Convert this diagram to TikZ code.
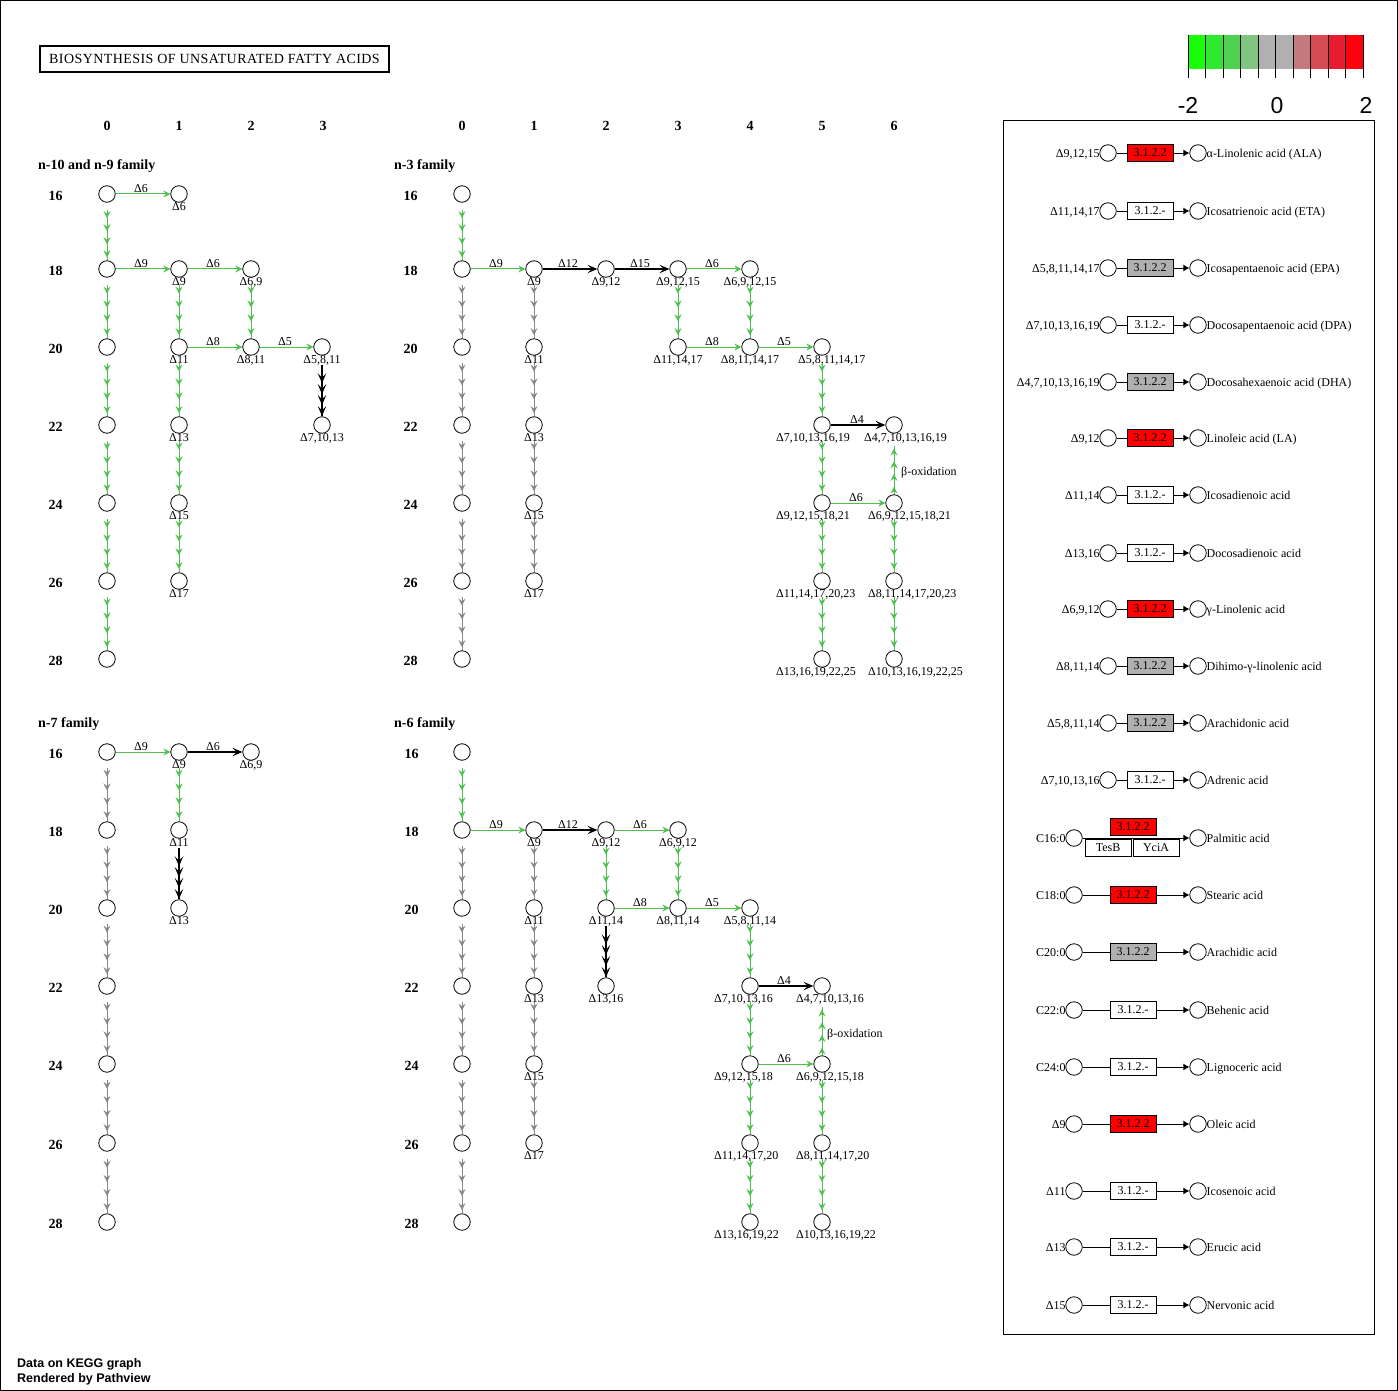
\documentclass[tikz,border=0pt]{standalone}
\usepackage{fontspec}
\setmainfont{Liberation Serif}
\setsansfont{Liberation Sans}
\usetikzlibrary{arrows.meta,decorations.markings}

\definecolor{rxgreen}{RGB}{78,192,78}
\definecolor{rxgray}{RGB}{136,136,136}
\definecolor{hitred}{RGB}{255,0,0}
\definecolor{hitgray}{RGB}{176,176,176}
\definecolor{sc1}{RGB}{25,255,8}
\definecolor{sc2}{RGB}{48,232,48}
\definecolor{sc3}{RGB}{80,208,80}
\definecolor{sc4}{RGB}{128,198,128}
\definecolor{sc5}{RGB}{176,176,176}
\definecolor{sc6}{RGB}{176,176,176}
\definecolor{sc7}{RGB}{196,122,124}
\definecolor{sc8}{RGB}{214,76,82}
\definecolor{sc9}{RGB}{232,28,46}
\definecolor{sc10}{RGB}{255,0,12}

\newcommand\fsz[1]{\fontsize{#1}{#1}\selectfont}

\tikzset{
  gtip/.tip={Stealth[length=7pt,width=7pt,inset=2.5pt]},
  btip/.tip={Stealth[length=10pt,width=8.5pt,inset=4.5pt]},
  ptip/.tip={Latex[length=6pt,width=7pt]},
  cpd/.style={circle,draw,fill=white,line width=0.8pt,minimum size=16.5pt,inner sep=0pt},
  dlab/.style={font=\fsz{12},inner sep=0pt,anchor=base},
  elab/.style={font=\fsz{12},inner sep=0pt,anchor=base},
  hdr/.style={font=\bfseries\fsz{14},inner sep=0pt},
  fam/.style={font=\bfseries\fsz{14},inner sep=0pt,anchor=base west},
  hgreen/.style={rxgreen,line width=1pt,-{gtip}},
  hblack/.style={black,line width=1.1pt,-{btip}},
  multi/.style={line width=1pt,decoration={markings,
      mark=at position 0.16 with {\arrow{gtip}},
      mark=at position 0.42 with {\arrow{gtip}},
      mark=at position 0.68 with {\arrow{gtip}},
      mark=at position 0.94 with {\arrow{gtip}}},postaction={decorate}},
  vgreen/.style={rxgreen,multi},
  vgray/.style={rxgray,multi},
  vblack/.style={black,line width=1.4pt,decoration={markings,
      mark=at position 0.36 with {\arrow{btip}},
      mark=at position 0.57 with {\arrow{btip}},
      mark=at position 0.78 with {\arrow{btip}},
      mark=at position 0.995 with {\arrow{btip}}},postaction={decorate}},
  ecbox/.style={draw,line width=0.8pt,minimum width=46pt,minimum height=17pt,inner sep=0pt,font=\fsz{12}},
  plab/.style={font=\fsz{12},inner sep=0pt},
  pline/.style={line width=0.9pt},
  beta/.style={font=\fsz{12},inner sep=0pt,anchor=west},
}

% compound circle without / with a caption underneath
\newcommand\mkcpd[3]{\node[cpd] (#1) at (#2,#3) {};}
\newcommand\mkcpdl[4]{\node[cpd] (#1) at (#2,#3) {};
  \node[dlab] (#1-l) at (#2,#3+16.5) {#4};}
% caption starting at a given x (crowded columns)
\newcommand\mkcpdw[5]{\node[cpd] (#1) at (#2,#3) {};
  \node[dlab,anchor=base west] (#1-l) at (#5,#3+16.5) {#4};}
% vertical chain starts just below the circle (or its caption)
\newcommand\vstep[3]{\draw[#1] ([yshift=-7.5pt]#2.south) -- (#3.north);}
\newcommand\vbstep[2]{\draw[vblack] ([yshift=-9pt]#1.south) -- (#2.north);}
% thioesterase row: id, y, substrate x, enzyme x, substrate, fill, EC, product
\newcommand\prow[8]{%
  \node[cpd] (#1s) at (#3,#2) {};
  \node[plab,anchor=base east] (#1sl) at (#3-8.3,#2+4.5) {#5};
  \node[ecbox,fill=#6] (#1e) at (#4,#2) {#7};
  \node[cpd] (#1p) at (1198,#2) {};
  \node[plab,anchor=base west] (#1pl) at (1206.5,#2+4.5) {#8};
  \draw[pline] (#1s) -- (#1e);
  \draw[pline,-{ptip}] (#1e) -- (#1p);}

\begin{document}
\begin{tikzpicture}[x=1pt,y=-1pt]
\useasboundingbox (0,0) rectangle (1398,1391);
\draw[line width=1pt] (0.5,0.5) rectangle (1397.5,1390.5);

% title
\node[draw,line width=1.5pt,minimum width=349pt,minimum height=26pt,inner sep=0pt,
  font=\fsz{14}\addfontfeature{LetterSpace=3}]
  (title) at (214.5,59) {BIOSYNTHESIS OF UNSATURATED FATTY ACIDS};

% colour key
\foreach \c [count=\i from 0] in {sc1,sc2,sc3,sc4,sc5,sc6,sc7,sc8,sc9,sc10}
  \fill[\c] (1188+\i*17.5,35) rectangle ++(17.5,34);
\foreach \i in {0,...,10}
  \draw[line width=0.8pt] (1188+\i*17.5,35) -- ++(0,43);
\node[font=\sffamily\fsz{23},inner sep=0pt] (keylo) at (1188,105.5) {-2};
\node[font=\sffamily\fsz{23},inner sep=0pt] (keymid) at (1277,105.5) {0};
\node[font=\sffamily\fsz{23},inner sep=0pt] (keyhi) at (1366,105.5) {2};

% column headers (number of double bonds)
\foreach \x/\t in {107/0,179/1,251/2,323/3}
  \node[hdr] (hl\t) at (\x,126) {\t};
\foreach \x/\t in {462/0,534/1,606/2,678/3,750/4,822/5,894/6}
  \node[hdr] (hr\t) at (\x,126) {\t};

% family titles
\node[fam] (famA) at (38,170) {n-10 and n-9 family};
\node[fam] (famB) at (394,170) {n-3 family};
\node[fam] (famC) at (38,727) {n-7 family};
\node[fam] (famD) at (394,727) {n-6 family};

% chain length labels
\foreach \y/\t in {194/16,269/18,347/20,425/22,503/24,581/26,659/28}{
  \node[hdr] (rA\t) at (55.5,\y+2) {\t};
  \node[hdr] (rB\t) at (410.5,\y+2) {\t};}
\foreach \y/\t in {752/16,830/18,908/20,986/22,1064/24,1143/26,1222/28}{
  \node[hdr] (rC\t) at (55.5,\y+2) {\t};
  \node[hdr] (rD\t) at (411.5,\y+2) {\t};}

%% ---------------- n-10 and n-9 family ----------------
\mkcpd{A-0-16}{107}{194}
\mkcpdl{A-1-16}{179}{194}{Δ6}
\mkcpd{A-0-18}{107}{269}
\mkcpdl{A-1-18}{179}{269}{Δ9}
\mkcpdl{A-2-18}{251}{269}{Δ6,9}
\mkcpd{A-0-20}{107}{347}
\mkcpdl{A-1-20}{179}{347}{Δ11}
\mkcpdl{A-2-20}{251}{347}{Δ8,11}
\mkcpdl{A-3-20}{322}{347}{Δ5,8,11}
\mkcpd{A-0-22}{107}{425}
\mkcpdl{A-1-22}{179}{425}{Δ13}
\mkcpdl{A-3-22}{322}{425}{Δ7,10,13}
\mkcpd{A-0-24}{107}{503}
\mkcpdl{A-1-24}{179}{503}{Δ15}
\mkcpd{A-0-26}{107}{581}
\mkcpdl{A-1-26}{179}{581}{Δ17}
\mkcpd{A-0-28}{107}{659}

\draw[hgreen] (A-0-16) -- (A-1-16); \node[elab] (tA1) at (141,192.5) {Δ6};
\draw[hgreen] (A-0-18) -- (A-1-18); \node[elab] (tA2) at (141,267.5) {Δ9};
\draw[hgreen] (A-1-18) -- (A-2-18); \node[elab] (tA3) at (213,267.5) {Δ6};
\draw[hgreen] (A-1-20) -- (A-2-20); \node[elab] (tA4) at (213,345.5) {Δ8};
\draw[hgreen] (A-2-20) -- (A-3-20); \node[elab] (tA5) at (285,345.5) {Δ5};

\vstep{vgreen}{A-0-16}{A-0-18}
\vstep{vgreen}{A-0-18}{A-0-20}
\vstep{vgreen}{A-0-20}{A-0-22}
\vstep{vgreen}{A-0-22}{A-0-24}
\vstep{vgreen}{A-0-24}{A-0-26}
\vstep{vgreen}{A-0-26}{A-0-28}
\vstep{vgreen}{A-1-18}{A-1-20}
\vstep{vgreen}{A-1-20}{A-1-22}
\vstep{vgreen}{A-1-22}{A-1-24}
\vstep{vgreen}{A-1-24}{A-1-26}
\vstep{vgreen}{A-2-18}{A-2-20}
\vbstep{A-3-20}{A-3-22}

%% ---------------- n-3 family ----------------
\mkcpd{B-0-16}{462}{194}
\mkcpd{B-0-18}{462}{269}
\mkcpdl{B-1-18}{534}{269}{Δ9}
\mkcpdl{B-2-18}{606}{269}{Δ9,12}
\mkcpdl{B-3-18}{678}{269}{Δ9,12,15}
\mkcpdl{B-4-18}{750}{269}{Δ6,9,12,15}
\mkcpd{B-0-20}{462}{347}
\mkcpdl{B-1-20}{534}{347}{Δ11}
\mkcpdl{B-3-20}{678}{347}{Δ11,14,17}
\mkcpdl{B-4-20}{750}{347}{Δ8,11,14,17}
\mkcpdw{B-5-20}{822}{347}{Δ5,8,11,14,17}{798}
\mkcpd{B-0-22}{462}{425}
\mkcpdl{B-1-22}{534}{425}{Δ13}
\mkcpdw{B-5-22}{822}{425}{Δ7,10,13,16,19}{776}
\mkcpdw{B-6-22}{894}{425}{Δ4,7,10,13,16,19}{864}
\mkcpd{B-0-24}{462}{503}
\mkcpdl{B-1-24}{534}{503}{Δ15}
\mkcpdw{B-5-24}{822}{503}{Δ9,12,15,18,21}{776}
\mkcpdw{B-6-24}{894}{503}{Δ6,9,12,15,18,21}{868}
\mkcpd{B-0-26}{462}{581}
\mkcpdl{B-1-26}{534}{581}{Δ17}
\mkcpdw{B-5-26}{822}{581}{Δ11,14,17,20,23}{776}
\mkcpdw{B-6-26}{894}{581}{Δ8,11,14,17,20,23}{868}
\mkcpd{B-0-28}{462}{659}
\mkcpdw{B-5-28}{822}{659}{Δ13,16,19,22,25}{776}
\mkcpdw{B-6-28}{894}{659}{Δ10,13,16,19,22,25}{868}

\draw[hgreen] (B-0-18) -- (B-1-18); \node[elab] (tB1) at (496,267.5) {Δ9};
\draw[hblack] (B-1-18) -- (B-2-18); \node[elab] (tB2) at (568,267.5) {Δ12};
\draw[hblack] (B-2-18) -- (B-3-18); \node[elab] (tB3) at (640,267.5) {Δ15};
\draw[hgreen] (B-3-18) -- (B-4-18); \node[elab] (tB4) at (712,267.5) {Δ6};
\draw[hgreen] (B-3-20) -- (B-4-20); \node[elab] (tB5) at (712,345.5) {Δ8};
\draw[hgreen] (B-4-20) -- (B-5-20); \node[elab] (tB6) at (784,345.5) {Δ5};
\draw[hblack] (B-5-22) -- (B-6-22); \node[elab] (tB7) at (857,423.5) {Δ4};
\draw[hgreen] (B-5-24) -- (B-6-24); \node[elab] (tB8) at (856,501.5) {Δ6};

\vstep{vgreen}{B-0-16}{B-0-18}
\vstep{vgray}{B-0-18}{B-0-20}
\vstep{vgray}{B-0-20}{B-0-22}
\vstep{vgray}{B-0-22}{B-0-24}
\vstep{vgray}{B-0-24}{B-0-26}
\vstep{vgray}{B-0-26}{B-0-28}
\vstep{vgray}{B-1-18}{B-1-20}
\vstep{vgray}{B-1-20}{B-1-22}
\vstep{vgray}{B-1-22}{B-1-24}
\vstep{vgray}{B-1-24}{B-1-26}
\vstep{vgreen}{B-3-18}{B-3-20}
\vstep{vgreen}{B-4-18}{B-4-20}
\vstep{vgreen}{B-5-20}{B-5-22}
\vstep{vgreen}{B-5-22}{B-5-24}
\vstep{vgreen}{B-5-24}{B-5-26}
\vstep{vgreen}{B-5-26}{B-5-28}
\vstep{vgreen}{B-6-24}{B-6-26}
\vstep{vgreen}{B-6-26}{B-6-28}
\draw[vgreen] (B-6-24.north) -- ([yshift=-12pt]B-6-22.south);
\node[beta] (betaB) at (901,473) {β-oxidation};

%% ---------------- n-7 family ----------------
\mkcpd{C-0-16}{107}{752}
\mkcpdl{C-1-16}{179}{752}{Δ9}
\mkcpdl{C-2-16}{251}{752}{Δ6,9}
\mkcpd{C-0-18}{107}{830}
\mkcpdl{C-1-18}{179}{830}{Δ11}
\mkcpd{C-0-20}{107}{908}
\mkcpdl{C-1-20}{179}{908}{Δ13}
\mkcpd{C-0-22}{107}{986}
\mkcpd{C-0-24}{107}{1064}
\mkcpd{C-0-26}{107}{1143}
\mkcpd{C-0-28}{107}{1222}

\draw[hgreen] (C-0-16) -- (C-1-16); \node[elab] (tC1) at (141,750.5) {Δ9};
\draw[hblack] (C-1-16) -- (C-2-16); \node[elab] (tC2) at (213,750.5) {Δ6};

\vstep{vgray}{C-0-16}{C-0-18}
\vstep{vgray}{C-0-18}{C-0-20}
\vstep{vgray}{C-0-20}{C-0-22}
\vstep{vgray}{C-0-22}{C-0-24}
\vstep{vgray}{C-0-24}{C-0-26}
\vstep{vgray}{C-0-26}{C-0-28}
\vstep{vgreen}{C-1-16}{C-1-18}
\vbstep{C-1-18}{C-1-20}

%% ---------------- n-6 family ----------------
\mkcpd{D-0-16}{462}{752}
\mkcpd{D-0-18}{462}{830}
\mkcpdl{D-1-18}{534}{830}{Δ9}
\mkcpdl{D-2-18}{606}{830}{Δ9,12}
\mkcpdl{D-3-18}{678}{830}{Δ6,9,12}
\mkcpd{D-0-20}{462}{908}
\mkcpdl{D-1-20}{534}{908}{Δ11}
\mkcpdl{D-2-20}{606}{908}{Δ11,14}
\mkcpdl{D-3-20}{678}{908}{Δ8,11,14}
\mkcpdl{D-4-20}{750}{908}{Δ5,8,11,14}
\mkcpd{D-0-22}{462}{986}
\mkcpdl{D-1-22}{534}{986}{Δ13}
\mkcpdl{D-2-22}{606}{986}{Δ13,16}
\mkcpdw{D-4-22}{750}{986}{Δ7,10,13,16}{714}
\mkcpdw{D-5-22}{822}{986}{Δ4,7,10,13,16}{796}
\mkcpd{D-0-24}{462}{1064}
\mkcpdl{D-1-24}{534}{1064}{Δ15}
\mkcpdw{D-4-24}{750}{1064}{Δ9,12,15,18}{714}
\mkcpdw{D-5-24}{822}{1064}{Δ6,9,12,15,18}{796}
\mkcpd{D-0-26}{462}{1143}
\mkcpdl{D-1-26}{534}{1143}{Δ17}
\mkcpdw{D-4-26}{750}{1143}{Δ11,14,17,20}{714}
\mkcpdw{D-5-26}{822}{1143}{Δ8,11,14,17,20}{796}
\mkcpd{D-0-28}{462}{1222}
\mkcpdw{D-4-28}{750}{1222}{Δ13,16,19,22}{714}
\mkcpdw{D-5-28}{822}{1222}{Δ10,13,16,19,22}{796}

\draw[hgreen] (D-0-18) -- (D-1-18); \node[elab] (tD1) at (496,828.5) {Δ9};
\draw[hblack] (D-1-18) -- (D-2-18); \node[elab] (tD2) at (568,828.5) {Δ12};
\draw[hgreen] (D-2-18) -- (D-3-18); \node[elab] (tD3) at (640,828.5) {Δ6};
\draw[hgreen] (D-2-20) -- (D-3-20); \node[elab] (tD4) at (640,906.5) {Δ8};
\draw[hgreen] (D-3-20) -- (D-4-20); \node[elab] (tD5) at (712,906.5) {Δ5};
\draw[hblack] (D-4-22) -- (D-5-22); \node[elab] (tD6) at (784,984.5) {Δ4};
\draw[hgreen] (D-4-24) -- (D-5-24); \node[elab] (tD7) at (784,1062.5) {Δ6};

\vstep{vgreen}{D-0-16}{D-0-18}
\vstep{vgray}{D-0-18}{D-0-20}
\vstep{vgray}{D-0-20}{D-0-22}
\vstep{vgray}{D-0-22}{D-0-24}
\vstep{vgray}{D-0-24}{D-0-26}
\vstep{vgray}{D-0-26}{D-0-28}
\vstep{vgray}{D-1-18}{D-1-20}
\vstep{vgray}{D-1-20}{D-1-22}
\vstep{vgray}{D-1-22}{D-1-24}
\vstep{vgray}{D-1-24}{D-1-26}
\vstep{vgreen}{D-2-18}{D-2-20}
\vstep{vgreen}{D-3-18}{D-3-20}
\vbstep{D-2-20}{D-2-22}
\vstep{vgreen}{D-4-20}{D-4-22}
\vstep{vgreen}{D-4-22}{D-4-24}
\vstep{vgreen}{D-4-24}{D-4-26}
\vstep{vgreen}{D-4-26}{D-4-28}
\vstep{vgreen}{D-5-24}{D-5-26}
\vstep{vgreen}{D-5-26}{D-5-28}
\draw[vgreen] (D-5-24.north) -- ([yshift=-12pt]D-5-22.south);
\node[beta] (betaD) at (827,1035) {β-oxidation};

%% ---------------- thioesterase panel ----------------
\draw[line width=0.8pt] (1003,120) rectangle (1374,1334);
\prow{r1}{153}{1108}{1150}{Δ9,12,15}{hitred}{3.1.2.2}{α-Linolenic acid (ALA)}
\prow{r2}{211}{1108}{1150}{Δ11,14,17}{white}{3.1.2.-}{Icosatrienoic acid (ETA)}
\prow{r3}{268}{1108}{1150}{Δ5,8,11,14,17}{hitgray}{3.1.2.2}{Icosapentaenoic acid (EPA)}
\prow{r4}{325}{1108}{1150}{Δ7,10,13,16,19}{white}{3.1.2.-}{Docosapentaenoic acid (DPA)}
\prow{r5}{382}{1108}{1150}{Δ4,7,10,13,16,19}{hitgray}{3.1.2.2}{Docosahexaenoic acid (DHA)}
\prow{r6}{438}{1108}{1150}{Δ9,12}{hitred}{3.1.2.2}{Linoleic acid (LA)}
\prow{r7}{495}{1108}{1150}{Δ11,14}{white}{3.1.2.-}{Icosadienoic acid}
\prow{r8}{553}{1108}{1150}{Δ13,16}{white}{3.1.2.-}{Docosadienoic acid}
\prow{r9}{609}{1108}{1150}{Δ6,9,12}{hitred}{3.1.2.2}{γ-Linolenic acid}
\prow{r10}{666}{1108}{1150}{Δ8,11,14}{hitgray}{3.1.2.2}{Dihimo-γ-linolenic acid}
\prow{r11}{723}{1108}{1150}{Δ5,8,11,14}{hitgray}{3.1.2.2}{Arachidonic acid}
\prow{r12}{780}{1108}{1150}{Δ7,10,13,16}{white}{3.1.2.-}{Adrenic acid}

% palmitoyl row carries three enzymes
\node[cpd] (r13s) at (1074,838) {};
\node[plab,anchor=base east] (r13sl) at (1065.7,842.5) {C16:0};
\node[cpd] (r13p) at (1198,838) {};
\node[plab,anchor=base west] (r13pl) at (1206.5,842.5) {Palmitic acid};
\draw[pline,-{ptip}] (r13s) -- (r13p);
\node[ecbox,fill=hitred] (r13e) at (1133,826.5) {3.1.2.2};
\node[ecbox,fill=white] (r13t) at (1108,847.5) {TesB};
\node[ecbox,fill=white] (r13y) at (1156,847.5) {YciA};

\prow{r14}{895}{1074}{1133}{C18:0}{hitred}{3.1.2.2}{Stearic acid}
\prow{r15}{952}{1074}{1133}{C20:0}{hitgray}{3.1.2.2}{Arachidic acid}
\prow{r16}{1010}{1074}{1133}{C22:0}{white}{3.1.2.-}{Behenic acid}
\prow{r17}{1067}{1074}{1133}{C24:0}{white}{3.1.2.-}{Lignoceric acid}
\prow{r18}{1124}{1074}{1133}{Δ9}{hitred}{3.1.2.2}{Oleic acid}
\prow{r19}{1191}{1074}{1133}{Δ11}{white}{3.1.2.-}{Icosenoic acid}
\prow{r20}{1247}{1074}{1133}{Δ13}{white}{3.1.2.-}{Erucic acid}
\prow{r21}{1305}{1074}{1133}{Δ15}{white}{3.1.2.-}{Nervonic acid}

% footer
\node[font=\sffamily\bfseries\fsz{12.5},inner sep=0pt,anchor=base west] (foot1) at (17,1367) {Data on KEGG graph};
\node[font=\sffamily\bfseries\fsz{12.5},inner sep=0pt,anchor=base west] (foot2) at (17,1382) {Rendered by Pathview};
\end{tikzpicture}
\end{document}
